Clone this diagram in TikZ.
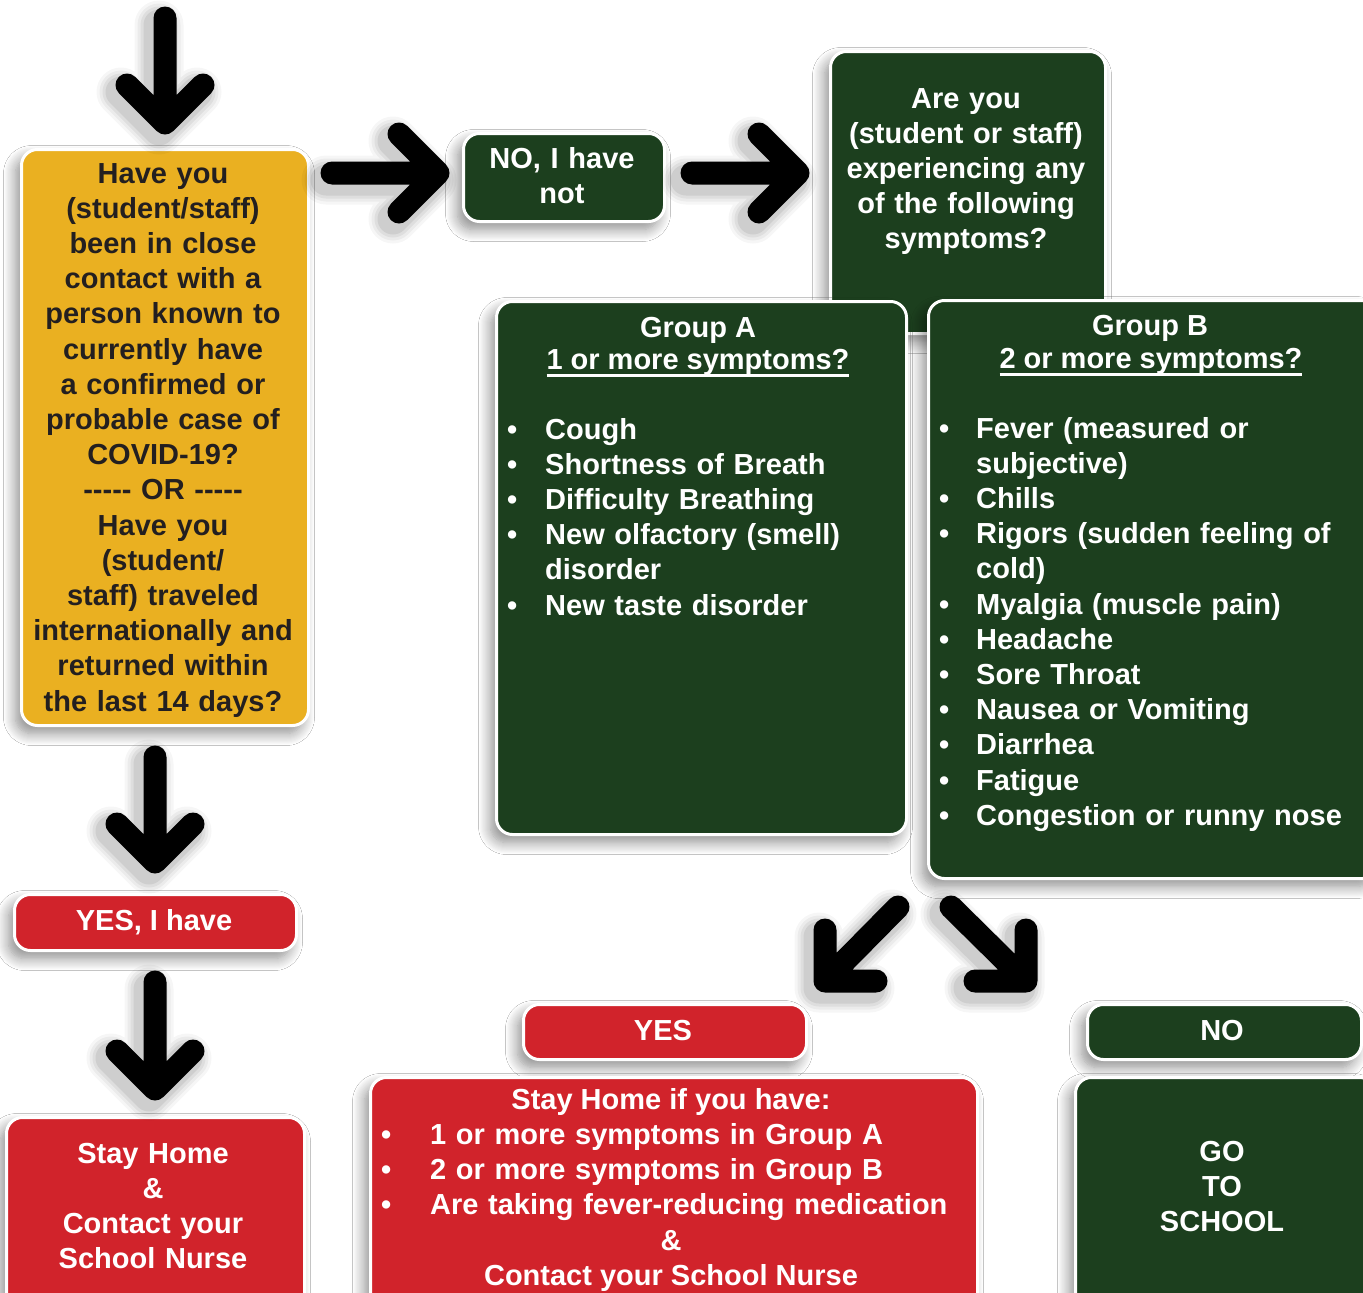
\documentclass[tikz,border=0pt]{standalone}
\usepackage{fontspec}
\setmainfont{Liberation Sans}
\usetikzlibrary{shadows.blur}
\definecolor{dkgreen}{HTML}{1C3F1E}
\definecolor{gold}{HTML}{EAB021}
\definecolor{myred}{HTML}{D1232B}
\definecolor{txtdark}{HTML}{231F20}
\newcommand\bigf{\fontsize{29}{35.2}\selectfont\bfseries}
\newcommand\bul[1]{\makebox[#1][l]{•}}
\newcommand\hy{\mbox{-}}
\newcommand\myul[1]{\sbox0{#1}\rlap{\rule[-7.5pt]{\wd0}{2.3pt}}\usebox0}
\newcommand\bigarrow[4]{%
  \foreach \w/\o in {49/0.035,43/0.045,37/0.055,31/0.07}{%
    \draw[line width=\w pt, draw opacity=\o, line cap=round, line join=round,
          transform canvas={xshift=-6pt,yshift=-7pt}] (#1)--(#2) (#3)--(#2)--(#4);}
  \draw[arr] (#1)--(#2) (#3)--(#2)--(#4);}
\tikzset{
  box/.style={draw=white, line width=3pt, rounded corners=16pt, anchor=north west,
    inner sep=0pt,
    blur shadow={shadow xshift=-6pt, shadow yshift=-8pt, shadow blur radius=12pt,
      shadow blur steps=12, shadow opacity=45}},
  txt/.style={font=\bigf, text=white, align=center, inner sep=0pt, anchor=base},
  lst/.style={font=\bigf, text=white, align=left, inner sep=0pt, anchor=base west},
  arr/.style={line width=23pt, line cap=round, line join=round, black}
}
\begin{document}
\begin{tikzpicture}[x=1pt,y=-1pt]
\useasboundingbox (0,0) rectangle (1363,1293);
\clip (0,0) rectangle (1363,1293);
\fill[white] (0,0) rectangle (1363,1293);

% boxes
\node[box, fill=dkgreen, minimum width=275pt, minimum height=282pt] (q) at (829,50) {};
\node[box, fill=dkgreen, minimum width=201pt, minimum height=88pt] (noh) at (462,132) {};
\node[box, fill=dkgreen, minimum width=410pt, minimum height=533pt] (grA) at (495,300) {};
\node[box, fill=dkgreen, minimum width=450pt, minimum height=578pt] (grB) at (927,299) {};
\node[box, fill=gold, minimum width=287pt, minimum height=576pt] (yel) at (20,148) {};
\node[box, fill=myred, minimum width=282pt, minimum height=56pt] (yesh) at (13,893) {};
\node[box, fill=myred, minimum width=298pt, minimum height=220pt] (stay1) at (5,1116) {};
\node[box, fill=myred, minimum width=283pt, minimum height=55pt] (yes) at (522,1003) {};
\node[box, fill=dkgreen, minimum width=274pt, minimum height=55pt] (no) at (1086,1003) {};
\node[box, fill=myred, minimum width=607pt, minimum height=260pt] (stay2) at (369,1076) {};
\node[box, fill=dkgreen, minimum width=300pt, minimum height=260pt] (go) at (1074,1076) {};

% texts
\node[txt, text=txtdark, text width=290pt] (yelt) at (163,183) {Have you\\(student/staff)\\been in close\\contact with a\\person known to\\currently have\\a confirmed or\\probable case of\\COVID-19?\\\hy\hy\hy\hy\hy{} OR \hy\hy\hy\hy\hy\\Have you\\(student/\\staff) traveled\\internationally and\\returned within\\the last 14 days?};
\node[txt, text width=200pt] (noht) at (562,168) {NO, I have\\not};
\node[txt, text width=270pt] (qt) at (966,108) {Are you\\(student or staff)\\experiencing any\\of the following\\symptoms?};
\node[txt] (grAt) at (698,337) {Group A};
\node[txt] (grAu) at (698,369) {\myul{1 or more symptoms?}};
\node[lst, text width=380pt] (grAl) at (507,439) {\bul{38pt}Cough\\\bul{38pt}Shortness of Breath\\\bul{38pt}Difficulty Breathing\\\bul{38pt}New olfactory (smell)\\\hspace*{38pt}disorder\\\bul{38pt}New taste disorder};
\node[txt] (grBt) at (1150,335) {Group B};
\node[txt] (grBu) at (1151,368) {\myul{2 or more symptoms?}};
\node[lst, text width=420pt] (grBl) at (939,438) {\bul{37pt}Fever (measured or\\\hspace*{37pt}subjective)\\\bul{37pt}Chills\\\bul{37pt}Rigors (sudden feeling of\\\hspace*{37pt}cold)\\\bul{37pt}Myalgia (muscle pain)\\\bul{37pt}Headache\\\bul{37pt}Sore Throat\\\bul{37pt}Nausea or Vomiting\\\bul{37pt}Diarrhea\\\bul{37pt}Fatigue\\\bul{37pt}Congestion or runny nose};
\node[txt] (yesht) at (154,930) {YES, I have};
\node[txt, text width=290pt] (stay1t) at (153,1163) {Stay Home\\\&\\Contact your\\School Nurse};
\node[txt] (yest) at (663,1040) {YES};
\node[txt] (not) at (1222,1040) {NO};
\node[txt] (stay2t) at (671,1109) {Stay Home if you have:};
\node[lst, text width=590pt] (stay2l) at (381,1144) {\bul{49pt}1 or more symptoms in Group A\\\bul{49pt}2 or more symptoms in Group B\\\bul{49pt}Are taking fever-reducing medication};
\node[txt] (stay2a) at (671,1250) {\&};
\node[txt] (stay2c) at (671,1285) {Contact your School Nurse};
\node[txt, text width=280pt] (got) at (1222,1161) {GO\\TO\\SCHOOL};

% arrows
\coordinate (a1s) at (165,18);  \coordinate (a1t) at (165,123);
\coordinate (a1l) at (127,85);  \coordinate (a1r) at (203,85);
\bigarrow{a1s}{a1t}{a1l}{a1r}
\coordinate (a2s) at (332,173); \coordinate (a2t) at (438,173);
\coordinate (a2l) at (399,134); \coordinate (a2r) at (399,212);
\bigarrow{a2s}{a2t}{a2l}{a2r}
\coordinate (a3s) at (692,173); \coordinate (a3t) at (798,173);
\coordinate (a3l) at (759,134); \coordinate (a3r) at (759,212);
\bigarrow{a3s}{a3t}{a3l}{a3r}
\coordinate (a4s) at (155,757); \coordinate (a4t) at (155,862);
\coordinate (a4l) at (117,824); \coordinate (a4r) at (193,824);
\bigarrow{a4s}{a4t}{a4l}{a4r}
\coordinate (a5s) at (155,982); \coordinate (a5t) at (155,1089);
\coordinate (a5l) at (117,1051); \coordinate (a5r) at (193,1051);
\bigarrow{a5s}{a5t}{a5l}{a5r}
\coordinate (a6s) at (898,907); \coordinate (a6t) at (825,981);
\coordinate (a6l) at (825,930); \coordinate (a6r) at (876,981);
\bigarrow{a6s}{a6t}{a6l}{a6r}
\coordinate (a7s) at (951,907); \coordinate (a7t) at (1026,981);
\coordinate (a7l) at (1026,930); \coordinate (a7r) at (975,981);
\bigarrow{a7s}{a7t}{a7l}{a7r}
\end{tikzpicture}
\end{document}
